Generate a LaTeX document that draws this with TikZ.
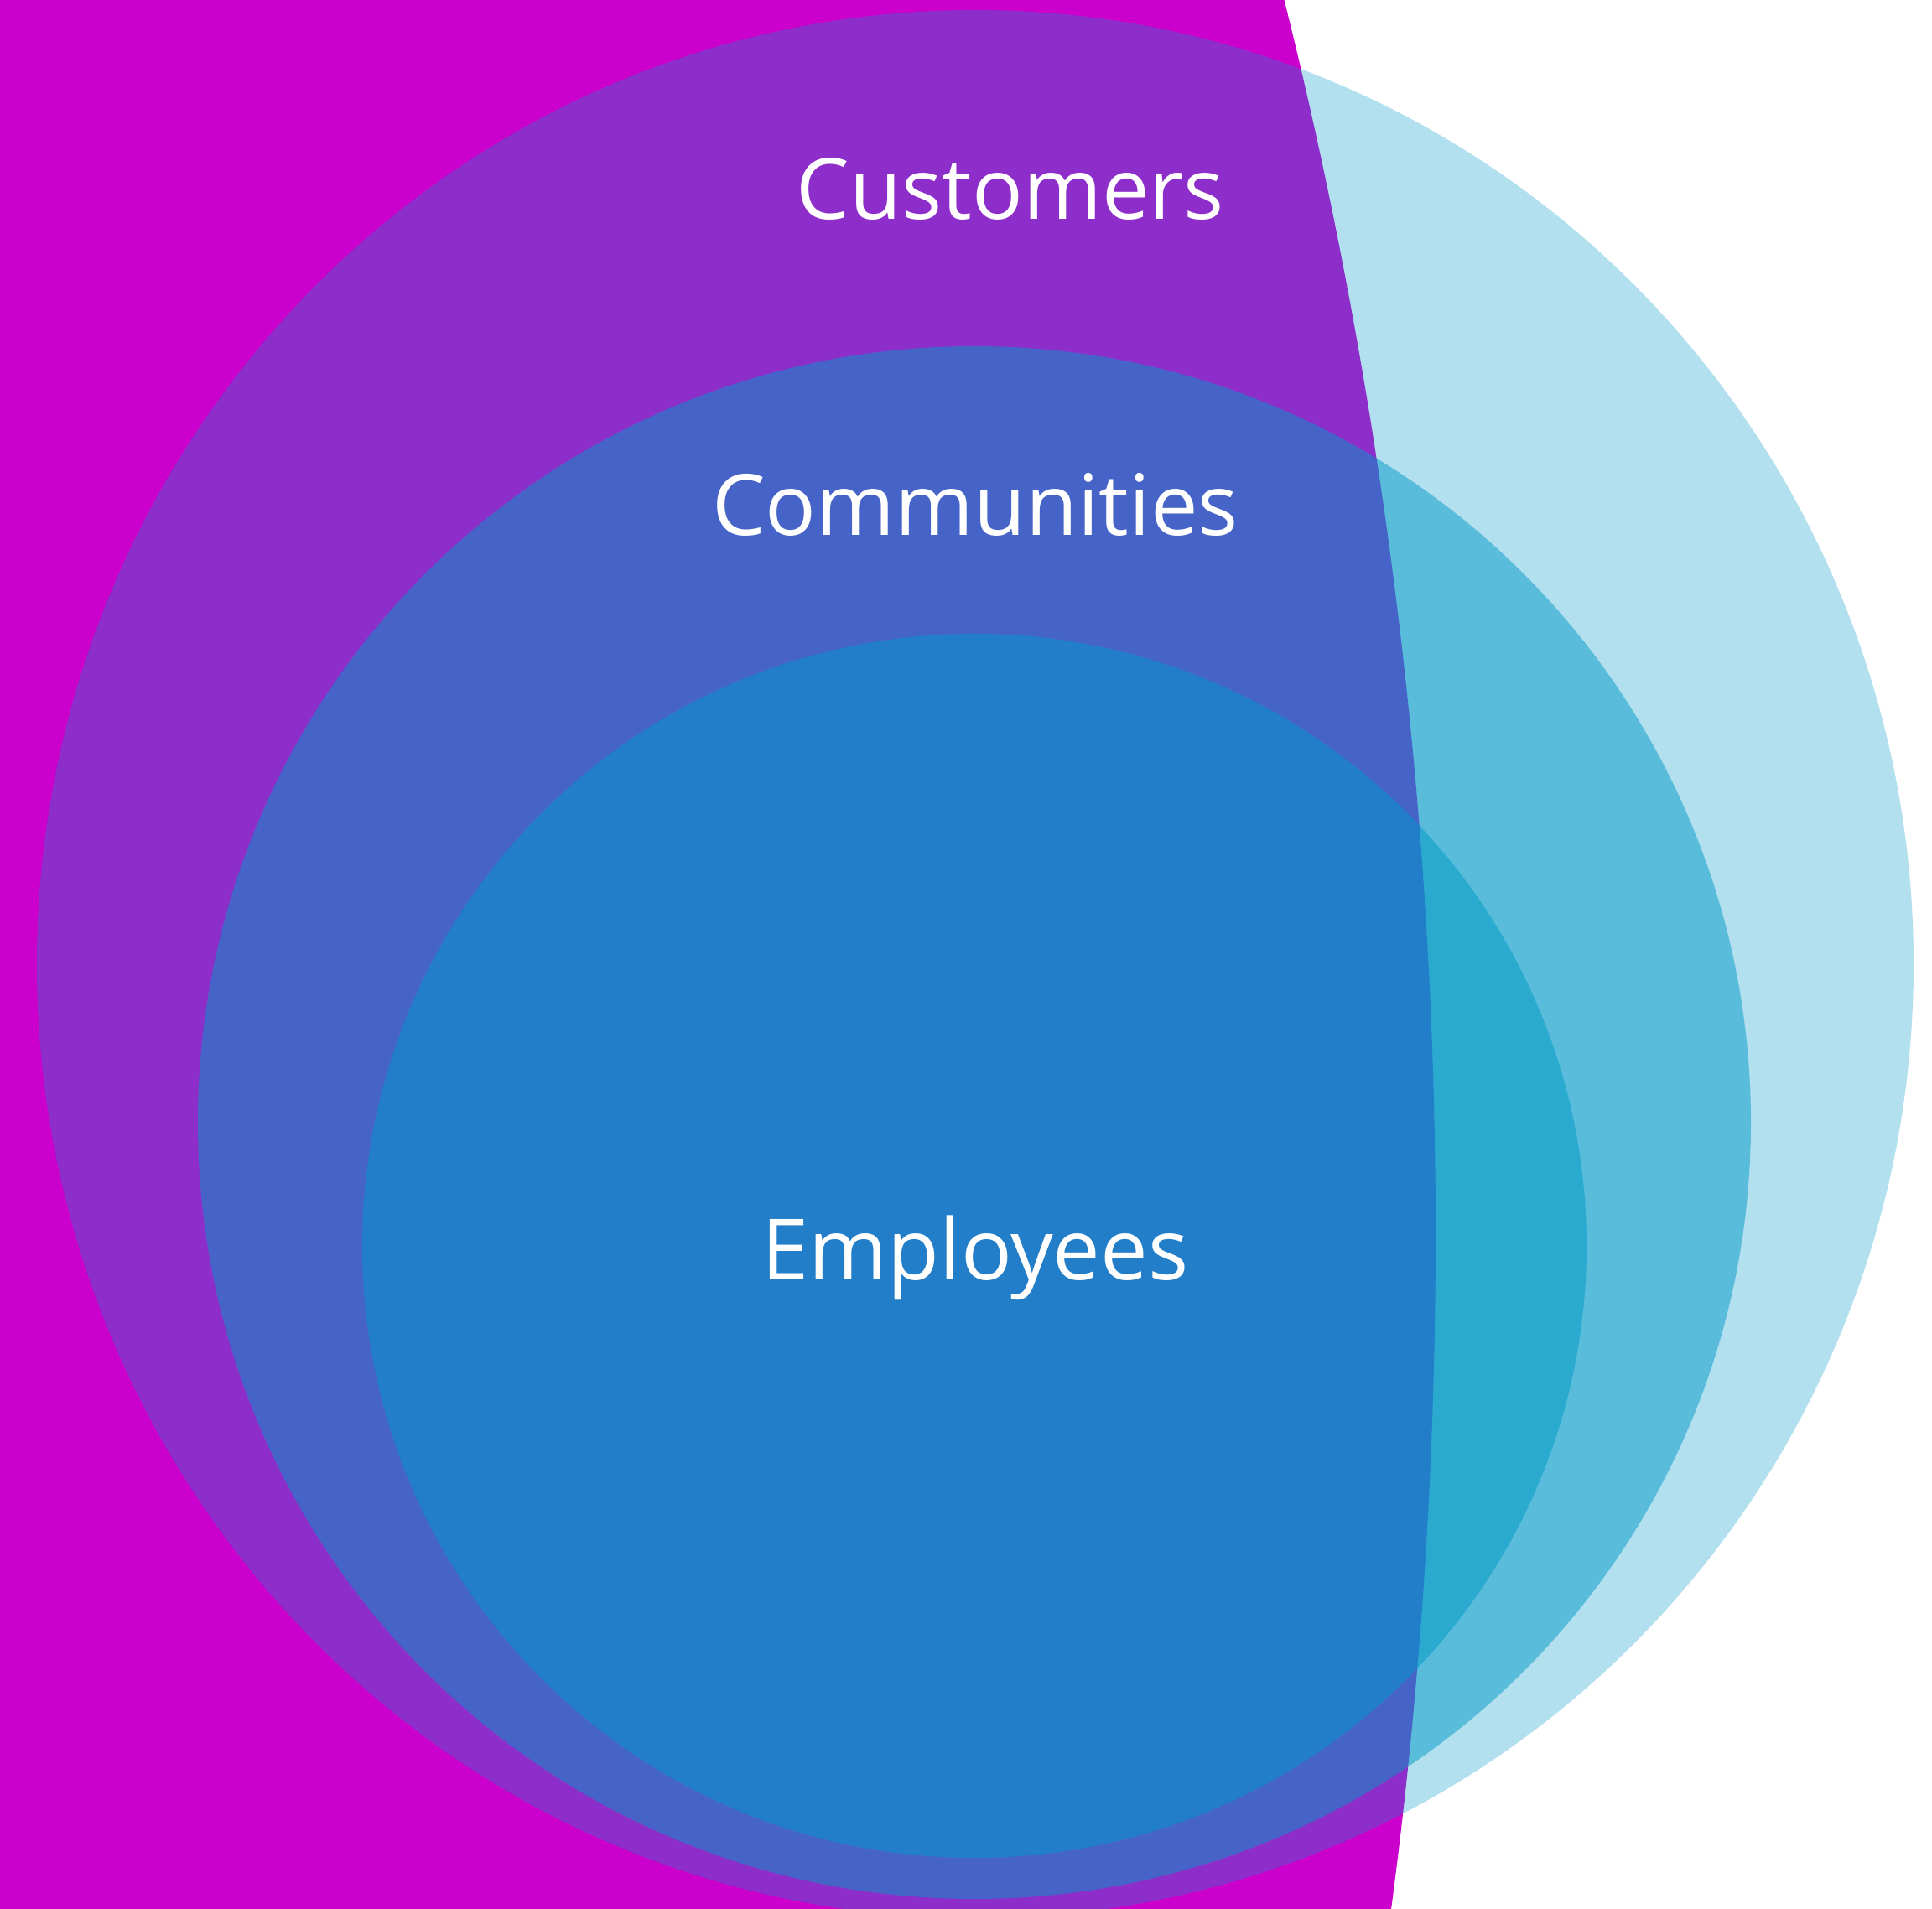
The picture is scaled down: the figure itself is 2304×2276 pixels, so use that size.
\documentclass[tikz,border=0pt]{standalone}
\usepackage{fontspec}
\setmainfont{Open Sans}
\definecolor{shellmagenta}{HTML}{CC00CC}
\definecolor{ringblue}{RGB}{0,153,200}

\begin{document}
\begin{tikzpicture}[x=0.01cm, y=0.01cm,
    ring/.style={fill=ringblue, fill opacity=#1},
    every node/.style={text=white, anchor=base, inner sep=0pt, font=\fontsize{28.7}{34}\selectfont}]
  \useasboundingbox (0,0) rectangle (2304,2276);
  \clip (0,0) rectangle (2304,2276);
  \fill[white] (0,0) rectangle (2304,2276);
  % big magenta disc, only its right rim is inside the frame
  \fill[shellmagenta] (-4340,803) circle (6052);
  % the three rings
  \fill[ring=0.3] (1163,1126) ellipse (1119 and 1138);
  \fill[ring=0.5] (1162,937) circle (926);
  \fill[ring=0.5] (1162,790) circle (730);
  \node (customers) at (1205,2014) {Customers};
  \node (communities) at (1163,1637) {Communities};
  \node (employees) at (1163,749) {Employees};
\end{tikzpicture}
\end{document}
